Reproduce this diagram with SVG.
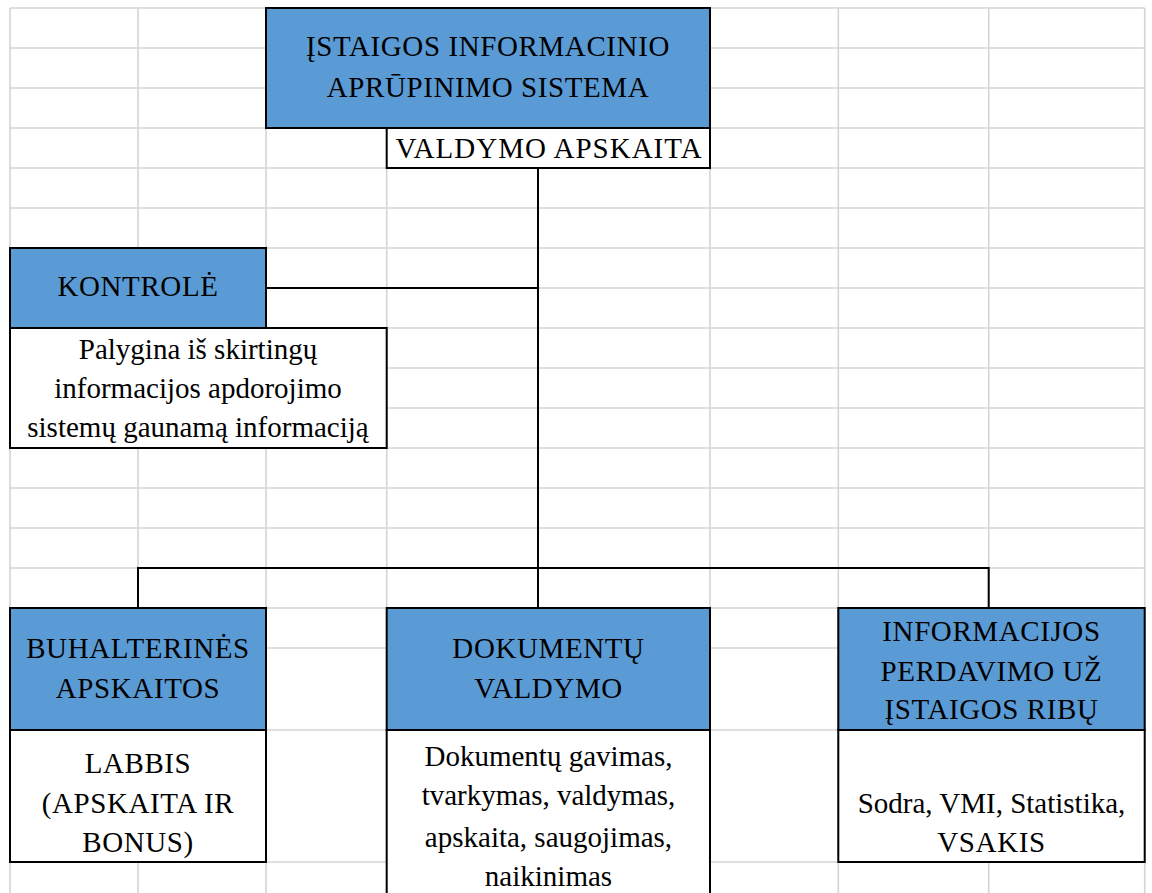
<svg xmlns="http://www.w3.org/2000/svg" width="1152" height="893" viewBox="0 0 1152 893">
<style>
.grid line{stroke:#d4d4d4;stroke-width:1.6}
.blue{fill:#5b9bd5;stroke:#000;stroke-width:2}
.white{fill:#fff;stroke:#000;stroke-width:2}
.conn{stroke:#000;stroke-width:2;fill:none}
.t{font-size:29px;fill:#000;text-anchor:middle}
.c{letter-spacing:0.6px}
</style>
<rect width="1152" height="893" fill="#fff"/>
<g class="grid">
<line x1="10" y1="8" x2="10" y2="893"/>
<line x1="138" y1="8" x2="138" y2="893"/>
<line x1="266" y1="8" x2="266" y2="893"/>
<line x1="386.7" y1="8" x2="386.7" y2="893"/>
<line x1="538" y1="8" x2="538" y2="893"/>
<line x1="710" y1="8" x2="710" y2="893"/>
<line x1="838.3" y1="8" x2="838.3" y2="893"/>
<line x1="988.7" y1="8" x2="988.7" y2="893"/>
<line x1="1144.7" y1="8" x2="1144.7" y2="893"/>
<line x1="10" y1="8" x2="1144.7" y2="8"/>
<line x1="10" y1="48" x2="1144.7" y2="48"/>
<line x1="10" y1="88" x2="1144.7" y2="88"/>
<line x1="10" y1="128" x2="1144.7" y2="128"/>
<line x1="10" y1="168" x2="1144.7" y2="168"/>
<line x1="10" y1="208" x2="1144.7" y2="208"/>
<line x1="10" y1="248" x2="1144.7" y2="248"/>
<line x1="10" y1="288" x2="1144.7" y2="288"/>
<line x1="10" y1="328" x2="1144.7" y2="328"/>
<line x1="10" y1="368" x2="1144.7" y2="368"/>
<line x1="10" y1="408" x2="1144.7" y2="408"/>
<line x1="10" y1="448" x2="1144.7" y2="448"/>
<line x1="10" y1="488" x2="1144.7" y2="488"/>
<line x1="10" y1="528" x2="1144.7" y2="528"/>
<line x1="10" y1="568" x2="1144.7" y2="568"/>
<line x1="10" y1="608" x2="1144.7" y2="608"/>
<line x1="10" y1="648" x2="1144.7" y2="648"/>
<line x1="10" y1="730" x2="1144.7" y2="730"/>
<line x1="10" y1="862" x2="1144.7" y2="862"/>
</g>
<g id="connectors">
<path class="conn" d="M538 168 V608"/>
<path class="conn" d="M266 288 H538"/>
<path class="conn" d="M138 608 V568 H988.7 V608"/>
</g>
<g font-family="Liberation Serif, Times New Roman, serif">
<g id="node-top">
<rect class="blue" x="266" y="8" width="444" height="120"/>
<text class="t c" x="488" y="55.5">ĮSTAIGOS INFORMACINIO</text>
<text class="t c" x="488" y="96.5">APRŪPINIMO SISTEMA</text>
</g>
<g id="node-valdymo">
<rect class="white" x="386.7" y="128" width="323.3" height="40"/>
<text class="t" x="549" y="158" letter-spacing="1">VALDYMO APSKAITA</text>
</g>
<g id="node-kontrole">
<rect class="blue" x="10" y="248" width="256" height="80"/>
<text class="t c" x="138" y="296">KONTROLĖ</text>
</g>
<g id="node-kontrole-desc">
<rect class="white" x="10" y="328" width="376.7" height="120"/>
<text class="t" x="198" y="359">Palygina iš skirtingų</text>
<text class="t" x="198" y="398">informacijos apdorojimo</text>
<text class="t" x="198" y="437">sistemų gaunamą informaciją</text>
</g>
<g id="node-buh">
<rect class="blue" x="10" y="608" width="256" height="122"/>
<text class="t c" x="138" y="658">BUHALTERINĖS</text>
<text class="t c" x="138" y="698">APSKAITOS</text>
</g>
<g id="node-buh-desc">
<rect class="white" x="10" y="730" width="256" height="132"/>
<text class="t c" x="138" y="773">LABBIS</text>
<text class="t c" x="138" y="813">(APSKAITA IR</text>
<text class="t c" x="138" y="852">BONUS)</text>
</g>
<g id="node-dok">
<rect class="blue" x="386.7" y="608" width="323.3" height="122"/>
<text class="t c" x="548.5" y="658">DOKUMENTŲ</text>
<text class="t c" x="548.5" y="698">VALDYMO</text>
</g>
<g id="node-dok-desc">
<rect class="white" x="386.7" y="730" width="323.3" height="175"/>
<text class="t" x="548.5" y="766">Dokumentų gavimas,</text>
<text class="t" x="548.5" y="805">tvarkymas, valdymas,</text>
<text class="t" x="548.5" y="847">apskaita, saugojimas,</text>
<text class="t" x="548.5" y="886">naikinimas</text>
</g>
<g id="node-info">
<rect class="blue" x="838.3" y="608" width="306.4" height="122"/>
<text class="t c" x="991.5" y="641">INFORMACIJOS</text>
<text class="t c" x="991.5" y="681">PERDAVIMO UŽ</text>
<text class="t c" x="991.5" y="719">ĮSTAIGOS RIBŲ</text>
</g>
<g id="node-info-desc">
<rect class="white" x="838.3" y="730" width="306.4" height="132"/>
<text class="t" x="991.5" y="813">Sodra, VMI, Statistika,</text>
<text class="t c" x="991.5" y="852">VSAKIS</text>
</g>
</g>
</svg>
